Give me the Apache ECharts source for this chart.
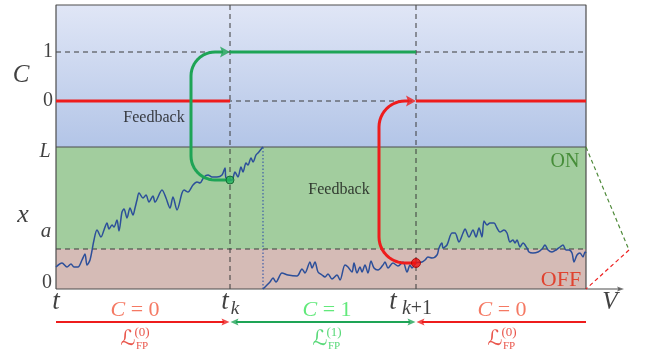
<!DOCTYPE html>
<html><head><meta charset="utf-8">
<script src="https://cdn.jsdelivr.net/npm/echarts@6/dist/echarts.min.js"></script>
<style>html,body{margin:0;padding:0;background:#fff}#c{width:647px;height:353px}</style>
</head><body><div id="c"></div>
<script>
// ---- time marks (schematic units) ----
const T_START = 0, T_K = 174, T_K1 = 360, T_END = 530, T_RESET = 207, V_END = 568;
// ---- levels ----
const X_ZERO = 0, X_A = 40, X_L = 142, C_ZERO = 188, C_ONE = 237, TOP = 284;
const ROW_ARROW = -33;
// ---- trajectory before reset ----
const traj1X = [0,6,11,15,18,22,26,29,31,34,38,41,45,48,51,53,56,58,61,63,66,68,71,74,77,79,81,83,87,90,93,97,99,106,110,114,117,121,126,128,132,137,141,144,148,152,156,161,166,169,170,174,176,179,182,185,187,190,192,195,197,200,202,206,207];
const traj1Y = [22,26,22,25,22,22,29,35,24,29,49,59,52,59,66,60,64,62,69,58,77,80,71,81,74,81,89,96,91,94,87,93,87,99,91,81,92,79,96,99,97,104,107,106,112,114,112,112,114,121,111,109,109,117,112,122,117,126,124,131,127,134,136,141,142];
// ---- trajectory after reset ----
const traj2X = [207,214,217,220,226,232,241,246,249,254,256,259,262,266,269,272,276,281,284,289,292,296,298,301,304,306,309,312,315,318,322,327,329,332,337,342,347,351,354,356,360,366,369,372,376,381,383,386,387,391,396,399,403,407,409,413,417,420,423,426,428,431,434,438,441,444,448,451,454,457,459,461,464,467,471,473,477,482,486,489,492,496,500,504,507,510,513,516,518,521,524,527,529,530];
const traj2Y = [0,7,11,7,16,14,13,20,16,27,21,27,17,14,12,15,10,14,9,24,22,17,26,16,22,17,24,16,28,21,19,24,27,21,26,23,27,17,24,21,26,27,29,32,31,34,41,46,41,44,56,56,47,56,60,52,59,52,61,52,68,64,66,66,61,57,59,56,47,49,46,49,42,46,41,37,36,37,40,44,39,37,39,42,44,39,39,36,27,34,36,32,37,36];
// ---- feedback paths (corner points) ----
const greenFeedback = [[T_K,109],[135,109],[135,C_ONE],[T_K-7,C_ONE]];
const redFeedback = [[T_K1,26],[323,26],[323,C_ZERO],[T_K1-7,C_ZERO]];
// ---- labels ----
const cLabels = ['C = 0','C = 1','C = 0'];
const lfpSup = ['(0)','(1)','(0)'];

const MATH = "'Liberation Serif','DejaVu Serif',serif";
const pairs = (xs, ys) => xs.map((x,i)=>[x, ys[i]]);

function rounded(pts, r){
  const out=[pts[0]];
  for(let i=1;i<pts.length-1;i++){
    const P=pts[i],A=pts[i-1],B=pts[i+1];
    let u1=[A[0]-P[0],A[1]-P[1]],u2=[B[0]-P[0],B[1]-P[1]];
    const l1=Math.hypot(u1[0],u1[1]),l2=Math.hypot(u2[0],u2[1]);
    u1=[u1[0]/l1,u1[1]/l1];u2=[u2[0]/l2,u2[1]/l2];
    const C=[P[0]+r*(u1[0]+u2[0]),P[1]+r*(u1[1]+u2[1])];
    for(let k=0;k<=12;k++){
      const f=k/12*Math.PI/2;
      out.push([C[0]-r*(u2[0]*Math.cos(f)+u1[0]*Math.sin(f)),C[1]-r*(u2[1]*Math.cos(f)+u1[1]*Math.sin(f))]);
    }
  }
  out.push(pts[pts.length-1]);
  return out;
}

const HEAD_R='path://M0,0 L10,5 L0,10 L2,5 Z';
const HEAD_L='path://M10,0 L0,5 L10,10 L8,5 Z';

function line(data, color, width, type, extra){
  return Object.assign({type:'line',data,showSymbol:false,symbol:'none',silent:true,clip:false,animation:false,
    lineStyle:{color,width,type:type||'solid'}},extra||{});
}
function head(x,y,color,dir,size){
  const w=size[0];
  return {type:'scatter',silent:true,clip:false,data:[[x,y]],symbol:dir>0?HEAD_R:HEAD_L,symbolSize:size,
    symbolOffset:[dir>0?-w/2:w/2,0],itemStyle:{color},z:6};
}
function txt(x,y,text,o){
  o=o||{};
  return {value:[x,y],label:Object.assign({show:true,position:'inside',formatter:text,color:'#111',
    fontFamily:MATH,fontSize:20},o)};
}

const DASH=[5,4], DC='#3a3a3a';
const RED='#ee1c1c', GREEN='#1ea456';

const labels=[
  txt(-8,C_ONE,'1'), txt(-8,C_ZERO,'0'),
  txt(-35,214,'C',{fontStyle:'italic',fontSize:25}),
  txt(-11,137,'L',{fontStyle:'italic',fontSize:20}),
  txt(-33,74,'x',{fontStyle:'italic',fontSize:26}),
  txt(-10,58,'a',{fontStyle:'italic',fontSize:21}),
  txt(-9,6,'0'),
  txt(98,171,'Feedback',{fontSize:16}),
  txt(283,99,'Feedback',{fontSize:16}),
  txt(509,127,'ON',{fontSize:20,color:'#2f7d1f'}),
  txt(505,9,'OFF',{fontSize:22,color:'#e2260f'}),
  txt(0,-13,'t',{fontStyle:'italic',fontSize:27}),
  txt(T_K-5,-13,'t',{fontStyle:'italic',fontSize:27}),
  txt(T_K+5,-20,'k',{fontStyle:'italic',fontSize:19}),
  txt(337,-13,'t',{fontStyle:'italic',fontSize:27}),
  txt(361,-20,'k+1',{fontSize:20,formatter:'{i|k}+1',rich:{i:{fontStyle:'italic',fontSize:20,fontFamily:MATH,color:'#111'}}}),
  txt(554,-13,'V',{fontStyle:'italic',fontSize:25}),
];
const cCols=['#f2583c','#3be35a','#f2583c'];
const lCols=['#e42a1e','#2fd057','#e42a1e'];
const cX=[79,271,446];
cLabels.forEach((s,i)=>{
  const p=s.split(' = ');
  labels.push(txt(cX[i],-21,s,{fontSize:22,color:cCols[i],formatter:'{i|'+p[0]+'} = '+p[1],
    rich:{i:{fontStyle:'italic',fontSize:22,fontFamily:MATH,color:cCols[i]}}}));
  labels.push(txt(cX[i]-7,-51,'\u2112',{fontSize:21,color:lCols[i],fontFamily:"'DejaVu Serif','DejaVu Sans',serif"}));
  labels.push(txt(cX[i]+7,-44,lfpSup[i],{fontSize:13,color:lCols[i]}));
  labels.push(txt(cX[i]+7,-57,'FP',{fontSize:11,color:lCols[i]}));
});

const grad={type:'linear',x:0,y:0,x2:0,y2:1,colorStops:[{offset:0,color:'#e0e6f6'},{offset:1,color:'#b3c5e7'}]};

const series=[
  line([],'#000',0,'solid',{markArea:{silent:true,data:[
    [{coord:[T_START,X_L],itemStyle:{color:grad}},{coord:[T_END,TOP]}],
    [{coord:[T_START,X_A],itemStyle:{color:'#a2cd9e'}},{coord:[T_END,X_L]}],
    [{coord:[T_START,X_ZERO],itemStyle:{color:'#d5bbb6'}},{coord:[T_END,X_A]}]
  ]}}),
  // dashed guides
  line([[T_START,C_ONE],[T_END,C_ONE]],DC,1,DASH),
  line([[T_START,C_ZERO],[T_END,C_ZERO]],DC,1,DASH),
  line([[T_START,X_A],[T_END,X_A]],DC,1,DASH),
  line([[T_K,X_ZERO],[T_K,TOP]],DC,1,DASH),
  line([[T_K1,X_ZERO],[T_K1,TOP]],DC,1,DASH),
  line([[T_RESET,X_ZERO],[T_RESET,X_L]],'#3f5ea8',1.2,[1.5,2]),
  // box
  line([[T_START,X_ZERO],[T_START,TOP],[T_END,TOP],[T_END,X_ZERO]],'#4d4d4d',1.2),
  line([[T_START,X_L],[T_END,X_L]],'#4d4d4d',1.2),
  line([[T_START,X_ZERO],[V_END-4,X_ZERO]],'#4d4d4d',1.2),
  head(V_END,X_ZERO,'#4d4d4d',1,[7,5]),
  // trajectories
  line(pairs(traj1X,traj1Y),'#2c4f9a',1.5,'solid',{smooth:0.3}),
  line(pairs(traj2X,traj2Y),'#2c4f9a',1.5,'solid',{smooth:0.3}),
  // C levels
  line([[T_START,C_ZERO],[T_K,C_ZERO]],RED,3),
  line([[T_K1,C_ZERO],[T_END,C_ZERO]],RED,3),
  line([[T_K,C_ONE],[T_K1,C_ONE]],GREEN,3),
  // feedback
  line(rounded(greenFeedback,24),GREEN,3,'solid',{z:4}),
  head(T_K,C_ONE,GREEN,1,[10,11]),
  line(rounded(redFeedback,26),RED,3,'solid',{z:4}),
  head(T_K1,C_ZERO,RED,1,[10,11]),
  {type:'scatter',silent:true,z:7,data:[[T_K,109]],symbolSize:8,itemStyle:{color:'#22b35a',borderColor:'#0c5a2a',borderWidth:1}},
  {type:'scatter',silent:true,z:7,data:[[T_K1,26]],symbolSize:9,itemStyle:{color:'#f01010',borderColor:'#a00000',borderWidth:1}},
  // zoom diagonals
  line([[T_END,X_L],[573,39]],'#4f8a3a',1.2,[4,3]),
  line([[573,39],[T_END,X_ZERO]],'#ee2020',1.2,[4,3]),
  // bottom arrows
  line([[T_START,ROW_ARROW],[T_K-6,ROW_ARROW]],RED,2.2),
  head(T_K-0.5,ROW_ARROW,RED,1,[8,7]),
  line([[T_K+6,ROW_ARROW],[T_K1-6,ROW_ARROW]],GREEN,2.2),
  head(T_K+0.5,ROW_ARROW,GREEN,-1,[8,7]),
  head(T_K1-0.5,ROW_ARROW,GREEN,1,[8,7]),
  line([[T_K1+6,ROW_ARROW],[T_END,ROW_ARROW]],RED,2.2),
  head(T_K1+0.5,ROW_ARROW,RED,-1,[8,7]),
  // labels
  {type:'scatter',silent:true,z:8,symbolSize:1,itemStyle:{color:'rgba(0,0,0,0)'},data:labels}
];

const chart=echarts.init(document.getElementById('c'),null,{renderer:'canvas'});
chart.setOption({
  animation:false,
  grid:{left:0,right:0,top:0,bottom:0},
  xAxis:{type:'value',min:-56,max:591,show:false},
  yAxis:{type:'value',min:-64,max:289,show:false},
  series
});
</script></body></html>
